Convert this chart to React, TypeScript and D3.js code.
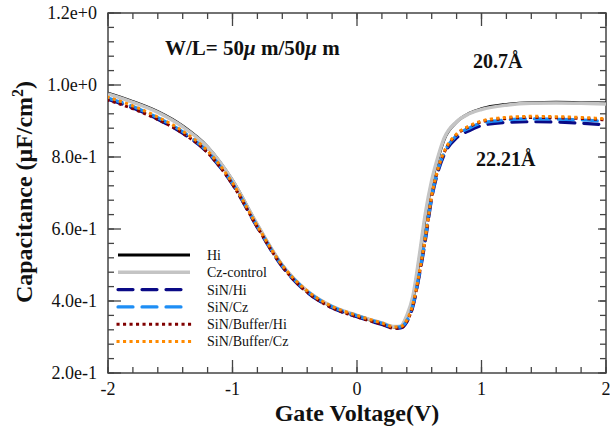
import React from "react";
import * as d3 from "d3";

const voltages = [-2, -1.8, -1.6, -1.4, -1.2, -1.0, -0.8, -0.6, -0.4, -0.2, 0, 0.1, 0.2, 0.3, 0.35, 0.4, 0.45, 0.5, 0.55, 0.6, 0.65, 0.7, 0.8, 0.9, 1.0, 1.2, 1.4, 1.6, 1.8, 2.0];

const hiValues = [0.977, 0.954, 0.926, 0.886, 0.828, 0.735, 0.611, 0.499, 0.427, 0.384, 0.359, 0.348, 0.338, 0.328, 0.329, 0.356, 0.408, 0.515, 0.635, 0.728, 0.795, 0.849, 0.897, 0.921, 0.934, 0.946, 0.951, 0.952, 0.951, 0.950];
const czValues = [0.975, 0.952, 0.924, 0.884, 0.827, 0.735, 0.612, 0.500, 0.428, 0.385, 0.360, 0.349, 0.339, 0.329, 0.330, 0.360, 0.415, 0.525, 0.645, 0.735, 0.800, 0.852, 0.898, 0.920, 0.932, 0.944, 0.949, 0.950, 0.949, 0.947];
const sinHiValues = [0.960, 0.936, 0.905, 0.866, 0.812, 0.724, 0.604, 0.495, 0.424, 0.381, 0.356, 0.345, 0.335, 0.324, 0.325, 0.342, 0.386, 0.470, 0.570, 0.685, 0.758, 0.806, 0.853, 0.873, 0.887, 0.896, 0.898, 0.897, 0.894, 0.889];
const sinCzValues = [0.964, 0.940, 0.909, 0.870, 0.815, 0.727, 0.607, 0.498, 0.427, 0.384, 0.359, 0.348, 0.338, 0.327, 0.328, 0.345, 0.390, 0.475, 0.577, 0.690, 0.764, 0.812, 0.860, 0.880, 0.894, 0.903, 0.906, 0.905, 0.903, 0.899];
const sinBufHiValues = [0.958, 0.934, 0.904, 0.866, 0.812, 0.724, 0.605, 0.496, 0.424, 0.381, 0.356, 0.345, 0.335, 0.324, 0.325, 0.343, 0.388, 0.473, 0.575, 0.690, 0.764, 0.812, 0.862, 0.884, 0.898, 0.907, 0.910, 0.909, 0.907, 0.903];
const sinBufCzValues = [0.966, 0.942, 0.911, 0.872, 0.817, 0.728, 0.608, 0.499, 0.428, 0.385, 0.360, 0.349, 0.339, 0.328, 0.329, 0.347, 0.393, 0.478, 0.580, 0.693, 0.767, 0.815, 0.864, 0.886, 0.900, 0.910, 0.913, 0.912, 0.910, 0.906];

const seriesNames = ["Hi", "Cz-control", "SiN/Hi", "SiN/Cz", "SiN/Buffer/Hi", "SiN/Buffer/Cz"];
const seriesValues = [hiValues, czValues, sinHiValues, sinCzValues, sinBufHiValues, sinBufCzValues];

const xTicks = [-2, -1, 0, 1, 2];
const yTicks = [0.2, 0.4, 0.6, 0.8, 1.0, 1.2];
const yTickLabels = ["2.0e-1", "4.0e-1", "6.0e-1", "8.0e-1", "1.0e+0", "1.2e+0"];

const styles = [
  { color: "#000000", width: 3, dash: "", cap: "butt" },
  { color: "#c4c4c4", width: 3.5, dash: "", cap: "butt" },
  { color: "#0a0a86", width: 3.2, dash: "15,9", cap: "round" },
  { color: "#1e8ef5", width: 3.2, dash: "15,9", cap: "round" },
  { color: "#800000", width: 3, dash: "0.1,6.4", cap: "square" },
  { color: "#ff8a00", width: 3, dash: "0.1,6.4", cap: "square" },
];

const L = 108, R = 606, T = 13, B = 373;
const font = '"Liberation Serif", "DejaVu Serif", Times, serif';
const tf = { fontFamily: font };

export default function App() {
  const x = d3.scaleLinear().domain([-2, 2]).range([L, R]);
  const y = d3.scaleLinear().domain([0.2, 1.2]).range([B, T]);
  const line = d3
    .line<number>()
    .x((_, i) => x(voltages[i]))
    .y((d) => y(d))
    .curve(d3.curveMonotoneX);

  const xMinor = d3.range(-2, 2.0001, 0.2).map((v) => +v.toFixed(2));
  const yMinor = d3.range(0.2, 1.2001, 0.04).map((v) => +v.toFixed(2));
  const axisColor = "#444";

  return (
    <svg width={610} height={435} style={{ position: "absolute", left: 0, top: 0, background: "#fff", fontFamily: font }}>
      <defs>
        <clipPath id="plot">
          <rect x={L} y={T} width={R - L} height={B - T} />
        </clipPath>
      </defs>
      {xMinor.map((v, i) => (
        <g key={"xm" + i} stroke={axisColor} strokeWidth={1.3}>
          <line x1={x(v)} x2={x(v)} y1={B} y2={B - 6} />
          <line x1={x(v)} x2={x(v)} y1={T} y2={T + 6} />
        </g>
      ))}
      {yMinor.map((v, i) => (
        <g key={"ym" + i} stroke={axisColor} strokeWidth={1.3}>
          <line x1={L} x2={L + 6} y1={y(v)} y2={y(v)} />
          <line x1={R} x2={R - 6} y1={y(v)} y2={y(v)} />
        </g>
      ))}
      {xTicks.map((v, i) => (
        <g key={"xt" + i}>
          <line x1={x(v)} x2={x(v)} y1={B} y2={B - 13} stroke={axisColor} strokeWidth={1.3} />
          <line x1={x(v)} x2={x(v)} y1={T} y2={T + 13} stroke={axisColor} strokeWidth={1.3} />
          <text style={tf} x={x(v)} y={395} fontSize={18} textAnchor="middle" fill="#111">
            {v < 0 ? "-" + Math.abs(v) : String(v)}
          </text>
        </g>
      ))}
      {yTicks.map((v, i) => (
        <g key={"yt" + i}>
          <line x1={L} x2={L + 13} y1={y(v)} y2={y(v)} stroke={axisColor} strokeWidth={1.3} />
          <line x1={R} x2={R - 8} y1={y(v)} y2={y(v)} stroke={axisColor} strokeWidth={1.3} />
          <text style={tf} x={97} y={y(v)} dy="0.35em" fontSize={18} textAnchor="end" fill="#111">
            {yTickLabels[i]}
          </text>
        </g>
      ))}
      <rect x={L} y={T} width={R - L} height={B - T} fill="none" stroke={axisColor} strokeWidth={1.5} />

      <g clipPath="url(#plot)">
        {seriesValues.map((vals, i) => (
          <path
            key={"s" + i}
            d={line(vals) || ""}
            fill="none"
            stroke={styles[i].color}
            strokeWidth={styles[i].width}
            strokeDasharray={styles[i].dash || undefined}
            strokeLinecap={styles[i].cap as any}
          />
        ))}
      </g>

      {seriesNames.map((name, i) => {
        const ly = 255 + i * 17.3;
        return (
          <g key={"lg" + i}>
            <line
              x1={118}
              x2={190}
              y1={ly}
              y2={ly}
              stroke={styles[i].color}
              strokeWidth={styles[i].width}
              strokeDasharray={styles[i].dash || undefined}
              strokeLinecap={styles[i].cap as any}
            />
            <text style={tf} x={207} y={ly} dy="0.35em" fontSize={14} fill="#111">
              {name}
            </text>
          </g>
        );
      })}

      <text style={tf} x={165} y={55} fontSize={21} fontWeight="bold" fill="#111">
        W/L= 50<tspan fontStyle="italic">μ</tspan> m/50<tspan fontStyle="italic">μ</tspan> m
      </text>
      <text style={tf} x={473} y={68} fontSize={20} fontWeight="bold" fill="#111">20.7Å</text>
      <text style={tf} x={476} y={166} fontSize={20} fontWeight="bold" fill="#111">22.21Å</text>

      <text style={tf} x={357} y={421} fontSize={24} fontWeight="bold" textAnchor="middle" fill="#111">
        Gate Voltage(V)
      </text>
      <text style={tf} transform="translate(32,192) rotate(-90)" fontSize={24} fontWeight="bold" textAnchor="middle" fill="#111">
        Capacitance (μF/cm<tspan dy={-9} fontSize={16}>2</tspan><tspan dy={9}>)</tspan>
      </text>
    </svg>
  );
}
